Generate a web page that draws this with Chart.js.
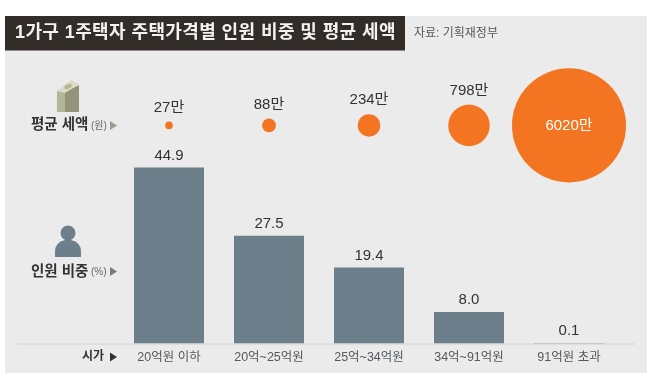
<!DOCTYPE html>
<html lang="ko">
<head>
<meta charset="utf-8">
<style>
  html, body { margin: 0; padding: 0; background: #fff; }
  #wrap { position: relative; width: 647px; height: 390px; }
</style>
</head>
<body>
<div id="wrap"><canvas id="chart"></canvas></div>
<script src="https://cdn.jsdelivr.net/npm/chart.js@4/dist/chart.umd.js"></script>
<script>
const categories = ["20억원 이하", "20억~25억원", "25억~34억원", "34억~91억원", "91억원 초과"];
const sharePct = [44.9, 27.5, 19.4, 8.0, 0.1];
const taxManwon = [27, 88, 234, 798, 6020];
const taxLabels = ["27만", "88만", "234만", "798만", "6020만"];

const TITLE = "1가구 1주택자 주택가격별 인원 비중 및 평균 세액";
const SOURCE = "자료: 기획재정부";
const FONT = '"Liberation Sans", "Noto Sans CJK KR", sans-serif';

function label(ctx, text, x, y, font, color, align) {
  ctx.font = font;
  ctx.fillStyle = color;
  ctx.textAlign = align || "center";
  ctx.textBaseline = "middle";
  ctx.fillText(text, x, y);
}

function triangle(ctx, x, y, color) {
  ctx.fillStyle = color;
  ctx.beginPath();
  ctx.moveTo(x, y - 4.5);
  ctx.lineTo(x + 7, y);
  ctx.lineTo(x, y + 4.5);
  ctx.closePath();
  ctx.fill();
}

// bubble area goes with the tax value
function bubbleRadius(v) {
  return Math.sqrt(v) * 0.735;
}
const bubbleRow = 0.666;

// panel, title strip and the baseline go behind the marks
const backdrop = {
  id: "backdrop",
  beforeDraw(chart) {
    const ctx = chart.ctx;
    ctx.save();
    ctx.fillStyle = "#ebebeb";
    ctx.fillRect(5, 16, 642, 357);
    ctx.fillStyle = "#332d2a";
    ctx.fillRect(5, 16, 400, 34.5);
    ctx.strokeStyle = "#cfd2d4";
    ctx.lineWidth = 1;
    ctx.beginPath();
    ctx.moveTo(18, chart.scales.x.top + 0.5);
    ctx.lineTo(635, chart.scales.x.top + 0.5);
    ctx.stroke();
    ctx.restore();
  }
};

// everything that is text or icon on top of the marks
const annotations = {
  id: "annotations",
  afterDraw(chart) {
    const ctx = chart.ctx;
    const { x, y, y2 } = chart.scales;
    ctx.save();

    ctx.letterSpacing = "0.4px";
    label(ctx, TITLE, 15, 33.5, "bold 18px " + FONT, "#f4f2f0", "left");
    ctx.letterSpacing = "0px";
    label(ctx, SOURCE, 414, 34, "12px " + FONT, "#55595c", "left");

    // bubble and bar value labels
    categories.forEach((c, i) => {
      const cx = x.getPixelForValue(i);
      const r = bubbleRadius(taxManwon[i]);
      const rowY = y2.getPixelForValue(bubbleRow);
      if (r > 30) {
        label(ctx, taxLabels[i], cx, rowY, "15px " + FONT, "#fff");
      } else {
        label(ctx, taxLabels[i], cx, rowY - r - 14, "15px " + FONT, "#333");
      }
      label(ctx, sharePct[i].toFixed(1), cx, y.getPixelForValue(sharePct[i]) - 12, "15px " + FONT, "#333");
    });

    // row captions
    label(ctx, "평균 세액", 31, 125, "bold 14.5px " + FONT, "#333", "left");
    label(ctx, "(원)", 91, 126, "10px " + FONT, "#666", "left");
    triangle(ctx, 110, 125.5, "#9a9c8c");
    label(ctx, "인원 비중", 31, 271.5, "bold 14.5px " + FONT, "#333", "left");
    label(ctx, "(%)", 91, 272, "10px " + FONT, "#666", "left");
    triangle(ctx, 110, 271.5, "#6d7f8a");
    label(ctx, "시가", 82, 357, "bold 12px " + FONT, "#333", "left");
    triangle(ctx, 110, 357, "#333");

    // building icon
    ctx.fillStyle = "#b5b696";
    ctx.beginPath();
    ctx.moveTo(57, 112); ctx.lineTo(57, 91); ctx.lineTo(65, 92); ctx.lineTo(65, 112);
    ctx.closePath(); ctx.fill();
    ctx.fillStyle = "#93957a";
    ctx.beginPath();
    ctx.moveTo(65, 112); ctx.lineTo(65, 92); ctx.lineTo(79, 85); ctx.lineTo(79, 112);
    ctx.closePath(); ctx.fill();
    ctx.fillStyle = "#dcdcc8";
    ctx.beginPath();
    ctx.moveTo(57, 91); ctx.lineTo(71, 80); ctx.lineTo(79, 84); ctx.lineTo(65, 93);
    ctx.closePath(); ctx.fill();
    ctx.fillStyle = "#b5b696";
    ctx.beginPath();
    ctx.ellipse(68, 86.5, 4, 2.2, -0.4, 0, Math.PI * 2);
    ctx.fill();

    // person icon
    ctx.fillStyle = "#6d7f8a";
    ctx.beginPath();
    ctx.arc(68, 233, 7.5, 0, Math.PI * 2);
    ctx.fill();
    ctx.beginPath();
    ctx.moveTo(55, 257);
    ctx.lineTo(55, 252);
    ctx.quadraticCurveTo(55, 242, 65, 240);
    ctx.lineTo(71, 240);
    ctx.quadraticCurveTo(81, 242, 81, 252);
    ctx.lineTo(81, 257);
    ctx.closePath();
    ctx.fill();

    ctx.restore();
  }
};

new Chart(document.getElementById("chart"), {
  data: {
    labels: categories,
    datasets: [
      {
        type: "bar",
        label: "인원 비중",
        data: sharePct,
        backgroundColor: "#6d7f8a",
        barPercentage: 0.7,
        categoryPercentage: 1,
        yAxisID: "y"
      },
      {
        type: "bubble",
        label: "평균 세액",
        data: categories.map((c, i) => ({ x: c, y: bubbleRow, r: bubbleRadius(taxManwon[i]) })),
        backgroundColor: "#f37521",
        borderWidth: 0,
        clip: false,
        yAxisID: "y2"
      }
    ]
  },
  options: {
    responsive: true,
    maintainAspectRatio: false,
    animation: false,
    layout: { autoPadding: false, padding: { left: 119, right: 28, top: 16, bottom: 18.5 } },
    plugins: { legend: { display: false }, tooltip: { enabled: false } },
    scales: {
      x: {
        type: "category",
        offset: true,
        grid: { display: false, drawTicks: false },
        border: { display: false },
        ticks: {
          color: "#55595c",
          font: { family: FONT, size: 12.5 },
          maxRotation: 0,
          autoSkip: false,
          padding: 6.5
        }
      },
      y: { display: false, min: 0, max: 83.5 },
      y2: { display: false, min: 0, max: 1 }
    }
  },
  plugins: [backdrop, annotations]
});
</script>
</body>
</html>
